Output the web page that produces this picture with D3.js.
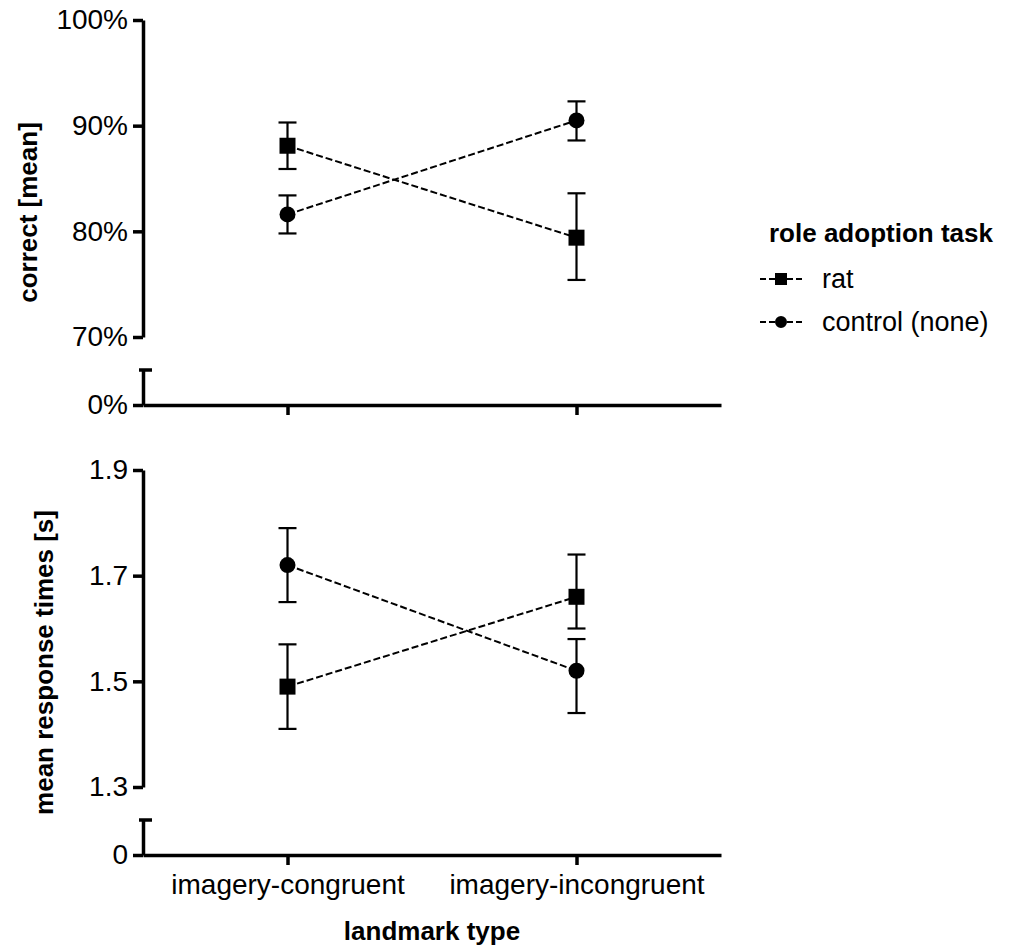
<!DOCTYPE html>
<html>
<head>
<meta charset="utf-8">
<script src="https://cdn.jsdelivr.net/npm/d3@7"></script>
<style>
  body { margin: 0; background: #fff; }
  svg text { font-family: "Liberation Sans", Arial, sans-serif; fill: #000; }
</style>
</head>
<body>
<svg id="chart" width="1009" height="947"></svg>
<script>
// categories and series
var categories = ["imagery-congruent", "imagery-incongruent"];
var seriesNames = ["rat", "control (none)"];

// accuracy (proportion correct), mean and error bar ends
var accRat = [0.881, 0.794];
var accRatLo = [0.859, 0.754];
var accRatHi = [0.903, 0.836];
var accCtrl = [0.816, 0.905];
var accCtrlLo = [0.798, 0.886];
var accCtrlHi = [0.834, 0.923];

// response times in seconds
var rtRat = [1.49, 1.66];
var rtRatLo = [1.41, 1.60];
var rtRatHi = [1.57, 1.74];
var rtCtrl = [1.72, 1.52];
var rtCtrlLo = [1.65, 1.44];
var rtCtrlHi = [1.79, 1.58];

var accTicks = [0.7, 0.8, 0.9, 1.0];
var rtTicks = [1.3, 1.5, 1.7, 1.9];

var svg = d3.select("#chart");

var x = d3.scalePoint()
    .domain(categories)
    .range([143, 721])
    .padding(0.5);

var pct = d3.format(".0%");

function panel(opt) {
    var g = svg.append("g");

    var y = d3.scaleLinear().domain(opt.domain).range([opt.bottom, opt.top]);
    // short piece of axis below the break, holding only the zero
    var y0 = d3.scaleLinear().domain([0, 1]).range([opt.base, opt.base - 35]);

    g.append("g")
        .attr("class", "axis")
        .attr("transform", "translate(143,0)")
        .call(d3.axisLeft(y).tickValues(opt.ticks).tickFormat(opt.fmt).tickSize(10).tickSizeOuter(0).tickPadding(5));

    g.append("g")
        .attr("class", "axis")
        .attr("transform", "translate(143,0)")
        .call(d3.axisLeft(y0).tickValues([0]).tickFormat(opt.fmt0).tickSize(10).tickSizeOuter(0).tickPadding(5));

    // cap at the top of the broken piece
    g.append("line")
        .attr("x1", 139).attr("x2", 152)
        .attr("y1", y0(1)).attr("y2", y0(1))
        .attr("stroke", "#000").attr("stroke-width", 3.5);

    g.append("g")
        .attr("class", "axis")
        .attr("transform", "translate(0," + opt.base + ")")
        .call(d3.axisBottom(x).tickSize(10).tickSizeOuter(0).tickFormat(opt.showX ? null : ""));

    g.selectAll(".axis path, .axis line")
        .attr("stroke", "#000").attr("stroke-width", 3.5);
    g.selectAll(".axis text")
        .style("font-size", "28px")
        .attr("fill", "#000");

    g.append("text")
        .attr("transform", "translate(" + opt.titleX + "," + ((opt.top + opt.base) / 2) + ") rotate(-90)")
        .attr("text-anchor", "middle")
        .style("font-size", "26px")
        .style("font-weight", "bold")
        .text(opt.title);

    var series = [
        {name: seriesNames[0], shape: "square", v: opt.rat, lo: opt.ratLo, hi: opt.ratHi},
        {name: seriesNames[1], shape: "circle", v: opt.ctrl, lo: opt.ctrlLo, hi: opt.ctrlHi}
    ];

    var line = d3.line()
        .x(function(d) { return x(d.c); })
        .y(function(d) { return y(d.v); });

    series.forEach(function(s) {
        var pts = categories.map(function(c, i) {
            return {c: c, v: s.v[i], lo: s.lo[i], hi: s.hi[i]};
        });

        g.append("path")
            .attr("d", line(pts))
            .attr("fill", "none")
            .attr("stroke", "#000")
            .attr("stroke-width", 2)
            .attr("stroke-dasharray", "7,3");

        var eb = g.selectAll(null).data(pts).enter().append("g");
        eb.append("line")
            .attr("x1", d => x(d.c)).attr("x2", d => x(d.c))
            .attr("y1", d => y(d.lo)).attr("y2", d => y(d.hi));
        eb.append("line")
            .attr("x1", d => x(d.c) - 9).attr("x2", d => x(d.c) + 9)
            .attr("y1", d => y(d.lo)).attr("y2", d => y(d.lo));
        eb.append("line")
            .attr("x1", d => x(d.c) - 9).attr("x2", d => x(d.c) + 9)
            .attr("y1", d => y(d.hi)).attr("y2", d => y(d.hi));
        eb.selectAll("line").attr("stroke", "#000").attr("stroke-width", 2.2);

        var sym = d3.symbol().type(s.shape === "square" ? d3.symbolSquare : d3.symbolCircle).size(s.shape === "square" ? 256 : 201);
        g.selectAll(null).data(pts).enter().append("path")
            .attr("d", sym)
            .attr("transform", d => "translate(" + x(d.c) + "," + y(d.v) + ")")
            .attr("fill", "#000");
    });
}

panel({
    domain: [0.7, 1.0], top: 20, bottom: 337, base: 405,
    ticks: accTicks, fmt: pct, fmt0: pct, showX: false,
    title: "correct [mean]", titleX: 37,
    rat: accRat, ratLo: accRatLo, ratHi: accRatHi,
    ctrl: accCtrl, ctrlLo: accCtrlLo, ctrlHi: accCtrlHi
});

panel({
    domain: [1.3, 1.9], top: 470, bottom: 787, base: 855,
    ticks: rtTicks, fmt: d3.format(".1f"), fmt0: d3.format("d"), showX: true,
    title: "mean response times [s]", titleX: 53,
    rat: rtRat, ratLo: rtRatLo, ratHi: rtRatHi,
    ctrl: rtCtrl, ctrlLo: rtCtrlLo, ctrlHi: rtCtrlHi
});

// push category labels down a bit
svg.selectAll(".axis text")
    .filter(function(d) { return categories.indexOf(d) >= 0; })
    .attr("y", 19)
    .attr("dy", "0.71em");

svg.append("text")
    .attr("x", 432).attr("y", 940)
    .attr("text-anchor", "middle")
    .style("font-size", "26px")
    .style("font-weight", "bold")
    .text("landmark type");

// legend
var legend = svg.append("g").attr("transform", "translate(760,0)");
legend.append("text")
    .attr("x", 9).attr("y", 242)
    .style("font-size", "26px")
    .style("font-weight", "bold")
    .text("role adoption task");

var rows = legend.selectAll(".legend")
    .data(seriesNames)
    .enter().append("g")
    .attr("class", "legend")
    .attr("transform", (d, i) => "translate(0," + (279 + i * 43) + ")");

rows.append("line")
    .attr("x1", 0).attr("x2", 43)
    .attr("stroke", "#000").attr("stroke-width", 2)
    .attr("stroke-dasharray", "6,3");
rows.append("path")
    .attr("d", (d, i) => d3.symbol().type(i === 0 ? d3.symbolSquare : d3.symbolCircle).size(i === 0 ? 144 : 113)())
    .attr("transform", "translate(21,0)")
    .attr("fill", "#000");
rows.append("text")
    .attr("x", 62).attr("y", 9)
    .style("font-size", "27px")
    .text(d => d);
</script>
</body>
</html>
